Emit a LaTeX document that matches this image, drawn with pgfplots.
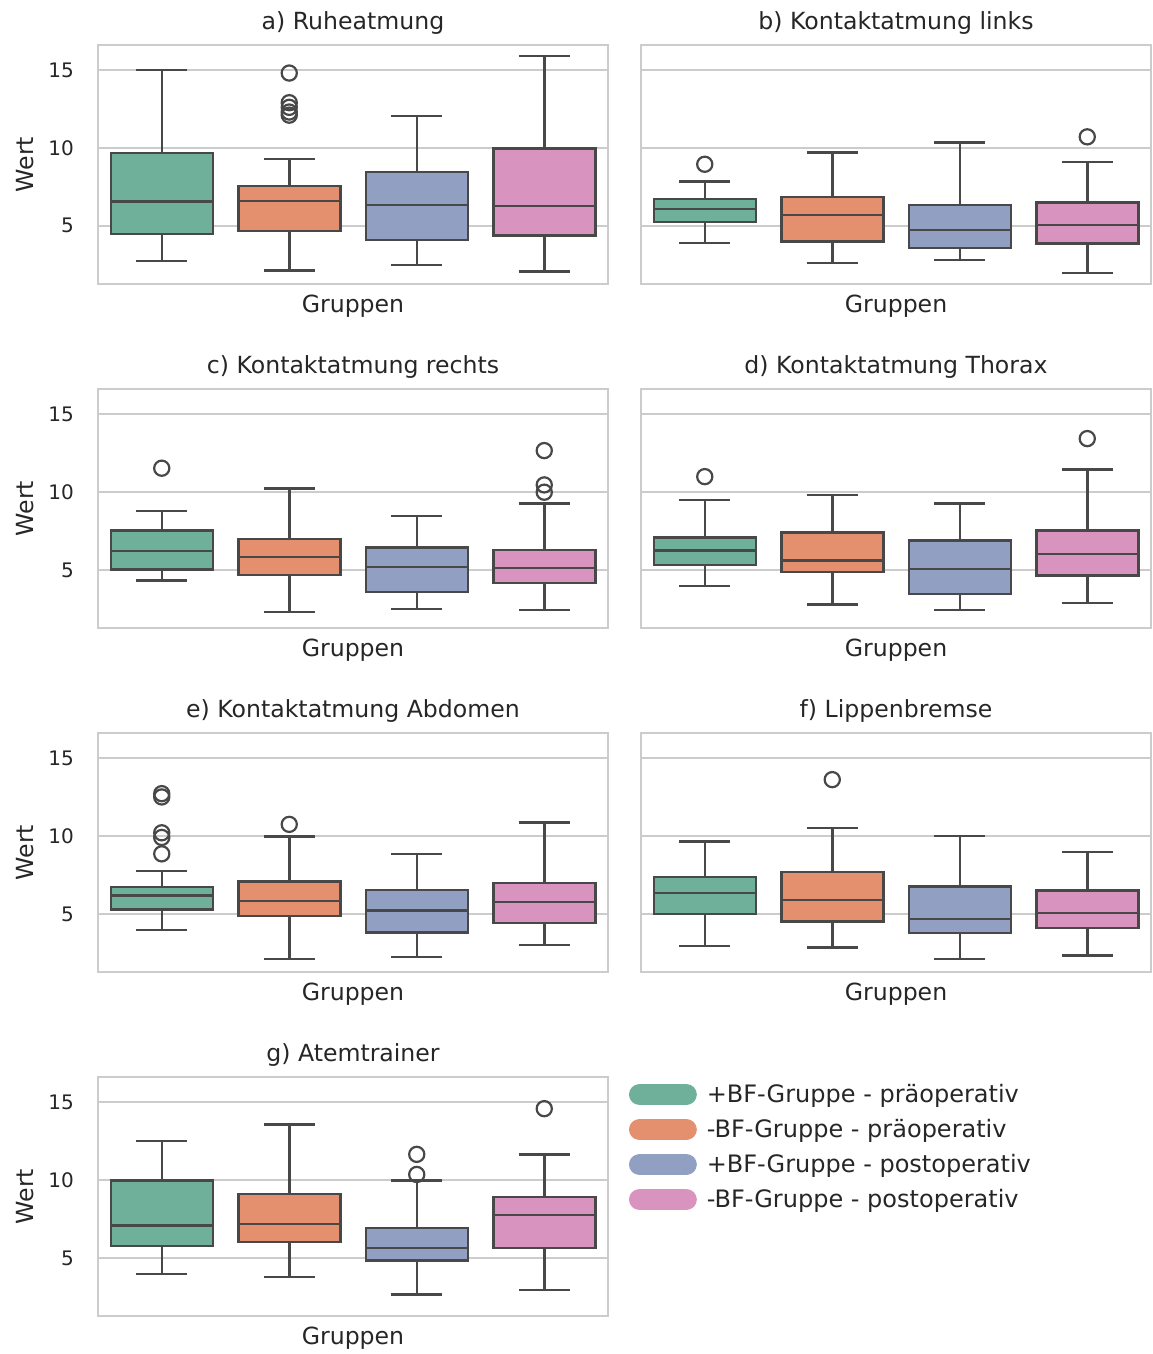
\documentclass[border=0pt]{standalone}
\usepackage{pgfplots}
\pgfplotsset{compat=1.18}
\usepgfplotslibrary{statistics}
\usepackage{fontspec}
\setmainfont{DejaVu Sans}
\definecolor{cA}{HTML}{6EB09A}
\definecolor{cB}{HTML}{E48F6D}
\definecolor{cC}{HTML}{919FC2}
\definecolor{cD}{HTML}{D893BF}
\definecolor{edge}{HTML}{484848}
\definecolor{gridc}{HTML}{CCCCCC}
\definecolor{txt}{HTML}{262626}
\pgfplotsset{
  panel/.style={
    width=255pt, height=119.5pt, scale only axis, anchor=south west,
    xmin=-0.5, xmax=3.5, ymin=1.27, ymax=16.6,
    xtick=\empty, ytick={5,10,15},
    ymajorgrids, major grid style={gridc, line width=1pt},
    axis line style={gridc, line width=1pt},
    major tick length=0pt, tick style={draw=none},
    /pgf/number format/assume math mode=true,
    ticklabel style={font=\fontsize{10}{12}\selectfont, text=txt},
    yticklabel style={xshift=-8.5pt},
    every axis title/.style={at={(axis description cs:0.5,1)}, anchor=base, yshift=8pt, font=\fontsize{11.8}{14}\selectfont, text=txt},
    xlabel={Gruppen},
    every axis x label/.style={at={(axis description cs:0.5,0)}, anchor=base, yshift=-14pt, font=\fontsize{11.8}{14}\selectfont, text=txt},
    every axis y label/.style={at={(axis description cs:-0.127,0.5)}, rotate=90, anchor=base, font=\fontsize{11.8}{14}\selectfont, text=txt},
  },
  leftpanel/.style={panel, ylabel={Wert}},
  rightpanel/.style={panel, yticklabels=\empty},
}
% position, colour, lower whisker, lower quartile, median, upper quartile, upper whisker, outliers
\newcommand{\bx}[8]{\addplot[boxplot prepared={draw direction=y, draw position=#1, lower whisker=#3, lower quartile=#4, median=#5, upper quartile=#6, upper whisker=#7, box extend=0.8, whisker extend=0.4}, draw=edge, fill=#2, line width=1.25pt, mark=o, mark size=3.8pt, mark options={draw=edge, fill=none, line width=1.1pt}] #8;}
\begin{document}
\begin{tikzpicture}
\useasboundingbox (0,0) rectangle (576pt,-677pt);
% a
\begin{axis}[leftpanel, at={(49pt,-142pt)}, title={a) Ruheatmung}]
\bx{0}{cA}{2.74}{4.47}{6.56}{9.68}{15.0}{coordinates {}}
\bx{1}{cB}{2.12}{4.66}{6.60}{7.56}{9.29}{table[row sep=\\,y index=0] {v\\ 14.8\\ 12.9\\ 12.6\\ 12.3\\ 12.1\\}}
\bx{2}{cC}{2.50}{4.08}{6.35}{8.44}{12.05}{coordinates {}}
\bx{3}{cD}{2.07}{4.38}{6.26}{9.96}{15.9}{coordinates {}}
\end{axis}
% b
\begin{axis}[rightpanel, at={(320.5pt,-142pt)}, title={b) Kontaktatmung links}]
\bx{0}{cA}{3.89}{5.26}{6.07}{6.71}{7.86}{table[row sep=\\,y index=0] {v\\ 8.95\\}}
\bx{1}{cB}{2.63}{4.00}{5.71}{6.84}{9.70}{coordinates {}}
\bx{2}{cC}{2.80}{3.57}{4.74}{6.35}{10.34}{coordinates {}}
\bx{3}{cD}{1.97}{3.87}{5.06}{6.50}{9.08}{table[row sep=\\,y index=0] {v\\ 10.71\\}}
\end{axis}
% c
\begin{axis}[leftpanel, at={(49pt,-314pt)}, title={c) Kontaktatmung rechts}]
\bx{0}{cA}{4.32}{5.02}{6.20}{7.52}{8.78}{table[row sep=\\,y index=0] {v\\ 11.52\\}}
\bx{1}{cB}{2.29}{4.66}{5.81}{6.97}{10.21}{coordinates {}}
\bx{2}{cC}{2.48}{3.59}{5.17}{6.45}{8.46}{coordinates {}}
\bx{3}{cD}{2.41}{4.17}{5.11}{6.28}{9.25}{table[row sep=\\,y index=0] {v\\ 12.65\\ 10.45\\ 9.98\\}}
\end{axis}
% d
\begin{axis}[rightpanel, at={(320.5pt,-314pt)}, title={d) Kontaktatmung Thorax}]
\bx{0}{cA}{3.95}{5.32}{6.24}{7.09}{9.49}{table[row sep=\\,y index=0] {v\\ 10.98\\}}
\bx{1}{cB}{2.78}{4.85}{5.60}{7.41}{9.81}{coordinates {}}
\bx{2}{cC}{2.44}{3.44}{5.04}{6.88}{9.27}{coordinates {}}
\bx{3}{cD}{2.88}{4.64}{6.03}{7.52}{11.45}{table[row sep=\\,y index=0] {v\\ 13.42\\}}
\end{axis}
% e
\begin{axis}[leftpanel, at={(49pt,-486pt)}, title={e) Kontaktatmung Abdomen}]
\bx{0}{cA}{3.95}{5.28}{6.18}{6.71}{7.76}{table[row sep=\\,y index=0] {v\\ 12.71\\ 12.5\\ 10.2\\ 9.9\\ 8.85\\}}
\bx{1}{cB}{2.11}{4.87}{5.81}{7.08}{9.97}{table[row sep=\\,y index=0] {v\\ 10.74\\}}
\bx{2}{cC}{2.22}{3.82}{5.21}{6.54}{8.83}{coordinates {}}
\bx{3}{cD}{2.99}{4.40}{5.75}{6.99}{10.87}{coordinates {}}
\end{axis}
% f
\begin{axis}[rightpanel, at={(320.5pt,-486pt)}, title={f) Lippenbremse}]
\bx{0}{cA}{2.94}{5.00}{6.35}{7.36}{9.65}{coordinates {}}
\bx{1}{cB}{2.84}{4.51}{5.90}{7.68}{10.50}{table[row sep=\\,y index=0] {v\\ 13.61\\}}
\bx{2}{cC}{2.11}{3.76}{4.68}{6.76}{10.01}{coordinates {}}
\bx{3}{cD}{2.32}{4.10}{5.06}{6.51}{8.96}{coordinates {}}
\end{axis}
% g
\begin{axis}[leftpanel, at={(49pt,-658pt)}, title={g) Atemtrainer},
  legend cell align=left,
  legend style={at={(axis description cs:1,1)}, anchor=north west, xshift=10.5pt, yshift=0pt,
    draw=none, fill=none, inner sep=0pt, outer sep=0pt, row sep=0pt, column sep=5pt,
    font=\fontsize{12}{14}\selectfont, text=txt,
    nodes={inner sep=0pt, minimum height=17.5pt}}]
\addlegendimage{legend image code/.code={\fill[cA, rounded corners=5pt] (0pt,-5pt) rectangle (33.5pt,5pt);}}
\addlegendentry{+BF-Gruppe - präoperativ}
\addlegendimage{legend image code/.code={\fill[cB, rounded corners=5pt] (0pt,-5pt) rectangle (33.5pt,5pt);}}
\addlegendentry{-BF-Gruppe - präoperativ}
\addlegendimage{legend image code/.code={\fill[cC, rounded corners=5pt] (0pt,-5pt) rectangle (33.5pt,5pt);}}
\addlegendentry{+BF-Gruppe - postoperativ}
\addlegendimage{legend image code/.code={\fill[cD, rounded corners=5pt] (0pt,-5pt) rectangle (33.5pt,5pt);}}
\addlegendentry{-BF-Gruppe - postoperativ}
\bx{0}{cA}{3.97}{5.75}{7.08}{9.97}{12.49}{coordinates {}}
\bx{1}{cB}{3.76}{6.01}{7.18}{9.09}{13.57}{coordinates {}}
\bx{2}{cC}{2.64}{4.83}{5.64}{6.91}{9.97}{table[row sep=\\,y index=0] {v\\ 11.64\\ 10.35\\}}
\bx{3}{cD}{2.94}{5.64}{7.76}{8.90}{11.64}{table[row sep=\\,y index=0] {v\\ 14.57\\}}
\end{axis}
\end{tikzpicture}
\end{document}
